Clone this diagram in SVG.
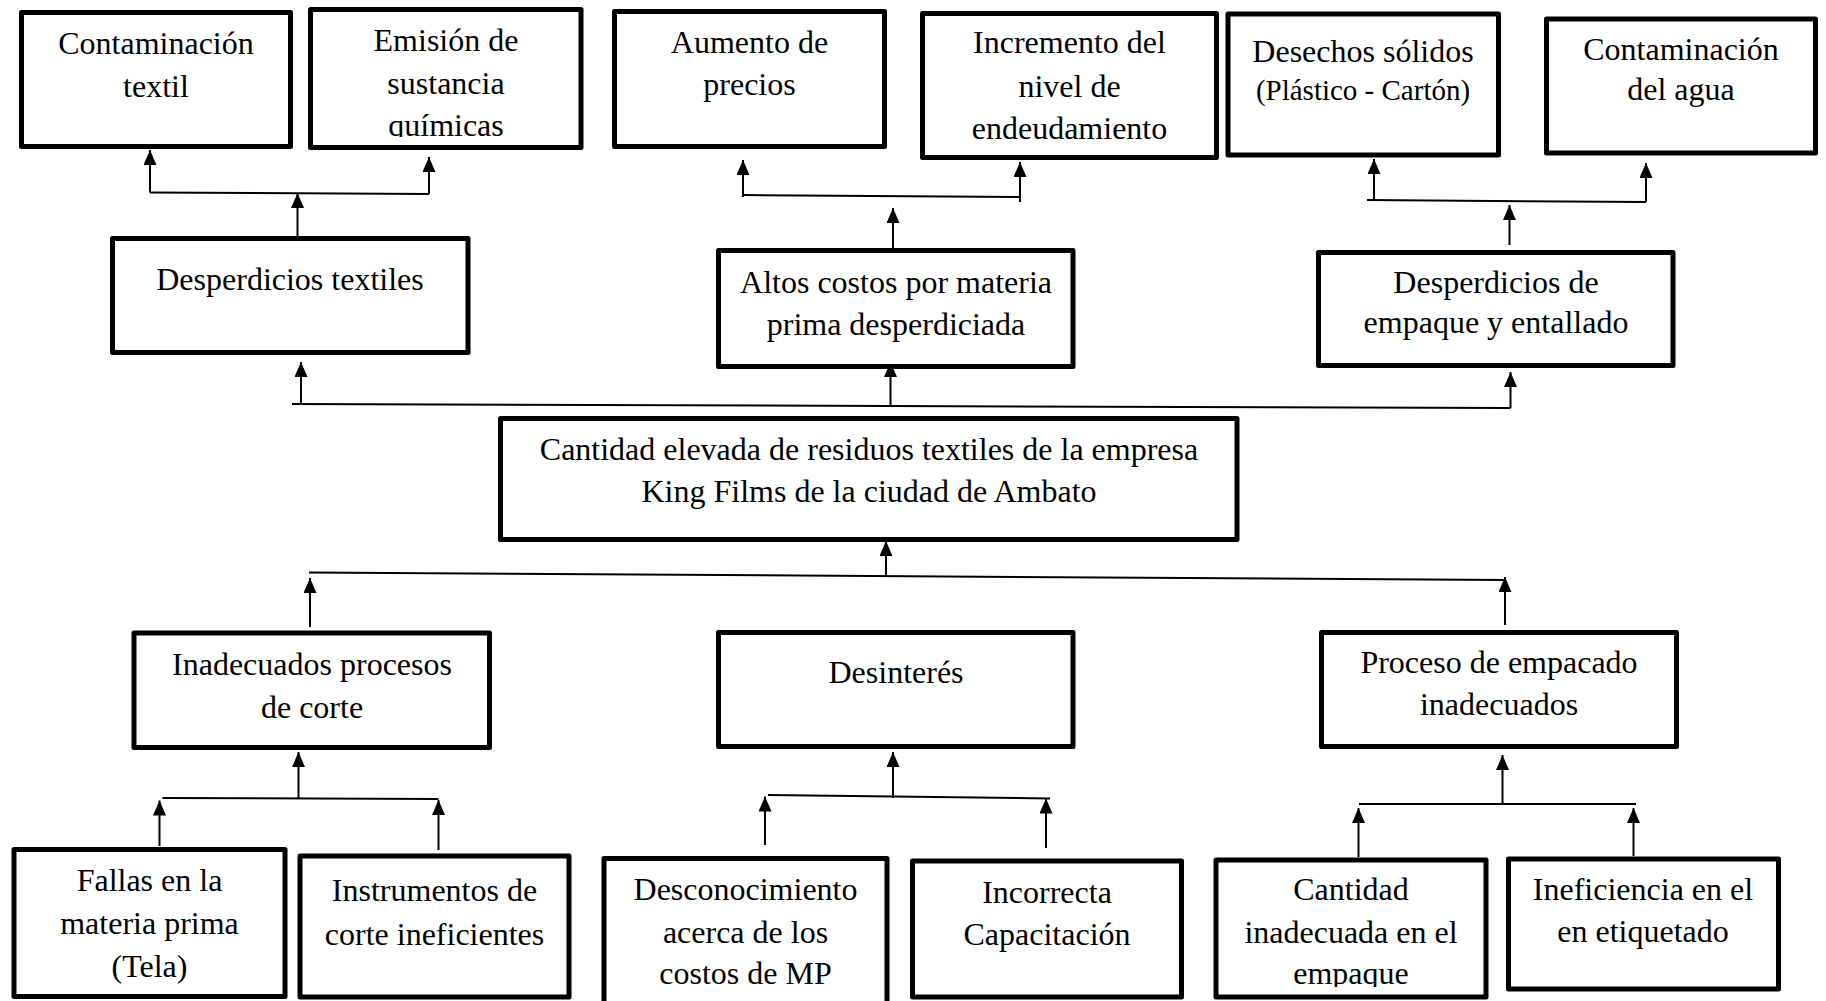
<svg xmlns="http://www.w3.org/2000/svg" width="1826" height="1001" viewBox="0 0 1826 1001">
<style>
.box{fill:#fff;stroke:#000;stroke-width:5;stroke-linejoin:round}
.t{font-family:"Liberation Serif","Times New Roman",serif;font-size:32px;text-anchor:middle;fill:#000}
.s{font-size:29px}
.c{stroke:#000;stroke-width:2;fill:none}
.a{stroke:#000;stroke-width:2;fill:none;marker-end:url(#arr)}
</style>
<defs>
<marker id="arr" viewBox="0 0 15 13" refX="15" refY="6.5" markerWidth="15" markerHeight="13" markerUnits="userSpaceOnUse" orient="auto">
<path d="M0,0 L15,6.5 L0,13 z" fill="#000"/>
</marker>
<clipPath id="clipA2"><rect x="300" y="0" width="300" height="137"/></clipPath>
<clipPath id="clipE5"><rect x="1200" y="850" width="300" height="137"/></clipPath>
</defs>
<rect width="1826" height="1001" fill="#fff"/>

<g id="connectors">
<line class="c" x1="150" y1="192.5" x2="429" y2="194"/>
<line class="a" x1="150" y1="192.5" x2="150" y2="150"/>
<line class="a" x1="429" y1="194" x2="429" y2="157"/>
<line class="a" x1="297.5" y1="236" x2="297.5" y2="193"/>

<line class="c" x1="743" y1="195" x2="1020" y2="197"/>
<line class="a" x1="743" y1="197" x2="743" y2="160"/>
<line class="a" x1="1020" y1="202" x2="1020" y2="162"/>
<line class="a" x1="893" y1="248" x2="893" y2="208"/>

<line class="c" x1="1367" y1="200" x2="1646" y2="202"/>
<line class="a" x1="1374" y1="200" x2="1374" y2="159"/>
<line class="a" x1="1646" y1="202" x2="1646" y2="163"/>
<line class="a" x1="1509.5" y1="245" x2="1509.5" y2="205"/>

<line class="c" x1="292" y1="404" x2="1510.5" y2="408"/>
<line class="a" x1="301" y1="404" x2="301" y2="362"/>
<line class="a" x1="890.5" y1="406" x2="890.5" y2="362"/>
<line class="a" x1="1510.5" y1="408" x2="1510.5" y2="372"/>

<line class="c" x1="309" y1="572.5" x2="1505" y2="580"/>
<line class="a" x1="886" y1="577" x2="886" y2="541"/>
<line class="a" x1="310" y1="627" x2="310" y2="578"/>
<line class="a" x1="1505" y1="625" x2="1505" y2="577"/>

<line class="a" x1="298.5" y1="798" x2="298.5" y2="752"/>
<line class="c" x1="162.5" y1="798" x2="438.5" y2="799"/>
<line class="a" x1="159.5" y1="846" x2="159.5" y2="800.5"/>
<line class="a" x1="438.5" y1="850" x2="438.5" y2="800"/>

<line class="a" x1="893" y1="798" x2="893" y2="752"/>
<line class="c" x1="768" y1="795" x2="1050" y2="798.5"/>
<line class="a" x1="765" y1="845" x2="765" y2="796.5"/>
<line class="a" x1="1046" y1="848" x2="1046" y2="798.5"/>

<line class="a" x1="1502.5" y1="804" x2="1502.5" y2="755"/>
<line class="c" x1="1359" y1="804" x2="1636" y2="804"/>
<line class="a" x1="1358.5" y1="857" x2="1358.5" y2="808"/>
<line class="a" x1="1633.5" y1="856" x2="1633.5" y2="808"/>
</g>

<g id="n-contaminacion-textil">
<rect class="box" x="21.5" y="12.5" width="269" height="134"/>
<text class="t" x="156" y="54">Contaminación</text>
<text class="t" x="156" y="97">textil</text>
</g>
<g id="n-emision">
<rect class="box" x="310.5" y="9.5" width="270.5" height="138"/>
<g clip-path="url(#clipA2)">
<text class="t" x="446" y="51">Emisión de</text>
<text class="t" x="446" y="93.5">sustancia</text>
<text class="t" x="446" y="135.5">químicas</text>
</g>
</g>
<g id="n-aumento">
<rect class="box" x="614.5" y="11.5" width="270" height="135"/>
<text class="t" x="749.5" y="53">Aumento de</text>
<text class="t" x="749.5" y="95">precios</text>
</g>
<g id="n-incremento">
<rect class="box" x="922.5" y="13.5" width="294" height="144"/>
<text class="t" x="1069.5" y="53">Incremento del</text>
<text class="t" x="1069.5" y="96.5">nivel de</text>
<text class="t" x="1069.5" y="138.5">endeudamiento</text>
</g>
<g id="n-desechos">
<rect class="box" x="1228" y="14" width="270.5" height="141"/>
<text class="t" x="1363" y="61.5">Desechos sólidos</text>
<text class="t s" x="1363" y="100">(Plástico - Cartón)</text>
</g>
<g id="n-contaminacion-agua">
<rect class="box" x="1546.5" y="19" width="269" height="134"/>
<text class="t" x="1681" y="60">Contaminación</text>
<text class="t" x="1681" y="100">del agua</text>
</g>

<g id="n-desperdicios-textiles">
<rect class="box" x="112.5" y="238.5" width="355.5" height="114"/>
<text class="t" x="290" y="290">Desperdicios textiles</text>
</g>
<g id="n-altos-costos">
<rect class="box" x="718.5" y="250.5" width="354.5" height="116"/>
<text class="t" x="896" y="293">Altos costos por materia</text>
<text class="t" x="896" y="335">prima desperdiciada</text>
</g>
<g id="n-desperdicios-empaque">
<rect class="box" x="1318.5" y="252.5" width="354.5" height="113"/>
<text class="t" x="1496" y="293">Desperdicios de</text>
<text class="t" x="1496" y="333">empaque y entallado</text>
</g>

<g id="n-problema">
<rect class="box" x="500.5" y="418.5" width="736.5" height="121"/>
<text class="t" x="869" y="460">Cantidad elevada de residuos textiles de la empresa</text>
<text class="t" x="869" y="502">King Films de la ciudad de Ambato</text>
</g>

<g id="n-inadecuados-corte">
<rect class="box" x="134" y="633" width="355.5" height="114.5"/>
<text class="t" x="312" y="675">Inadecuados procesos</text>
<text class="t" x="312" y="717.5">de corte</text>
</g>
<g id="n-desinteres">
<rect class="box" x="718.5" y="632.5" width="354.5" height="114"/>
<text class="t" x="896" y="683">Desinterés</text>
</g>
<g id="n-empacado">
<rect class="box" x="1321.5" y="632.5" width="355" height="114"/>
<text class="t" x="1499" y="673">Proceso de empacado</text>
<text class="t" x="1499" y="715">inadecuados</text>
</g>

<g id="n-fallas">
<rect class="box" x="14" y="849.5" width="271" height="147"/>
<text class="t" x="149.5" y="890.5">Fallas en la</text>
<text class="t" x="149.5" y="934">materia prima</text>
<text class="t" x="149.5" y="977">(Tela)</text>
</g>
<g id="n-instrumentos">
<rect class="box" x="300" y="856" width="269" height="141"/>
<text class="t" x="434.5" y="901">Instrumentos de</text>
<text class="t" x="434.5" y="945">corte ineficientes</text>
</g>
<g id="n-desconocimiento">
<rect class="box" x="604" y="858.5" width="283" height="150"/>
<text class="t" x="745.5" y="900">Desconocimiento</text>
<text class="t" x="745.5" y="942.5">acerca de los</text>
<text class="t" x="745.5" y="983.5">costos de MP</text>
</g>
<g id="n-capacitacion">
<rect class="box" x="912.5" y="861" width="269" height="136"/>
<text class="t" x="1047" y="903">Incorrecta</text>
<text class="t" x="1047" y="945">Capacitación</text>
</g>
<g id="n-cantidad">
<rect class="box" x="1216" y="860" width="270" height="137"/>
<g clip-path="url(#clipE5)">
<text class="t" x="1351" y="900">Cantidad</text>
<text class="t" x="1351" y="942.5">inadecuada en el</text>
<text class="t" x="1351" y="983.5">empaque</text>
</g>
</g>
<g id="n-ineficiencia">
<rect class="box" x="1508.5" y="859" width="270" height="130"/>
<text class="t" x="1643" y="900">Ineficiencia en el</text>
<text class="t" x="1643" y="942">en etiquetado</text>
</g>
</svg>
